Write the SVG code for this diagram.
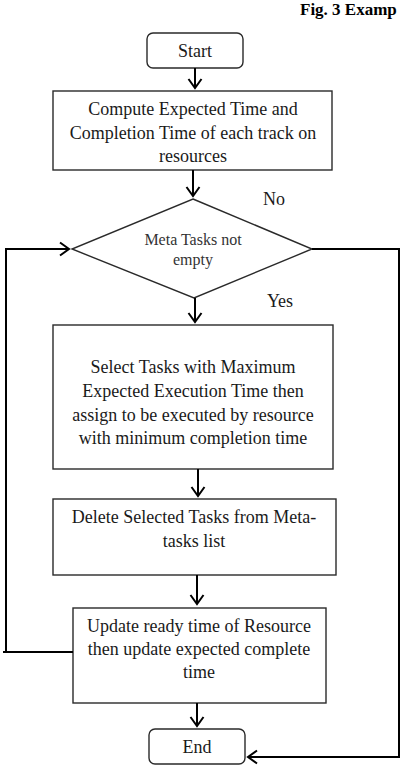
<svg xmlns="http://www.w3.org/2000/svg" width="403" height="765" viewBox="0 0 403 765">
  <style>
    .box { fill: #ffffff; stroke: #2a2a2a; stroke-width: 1.4; }
    .lbl { font-family: "Liberation Serif", "Times New Roman", serif; font-size: 18px; fill: #1a1a1a; text-anchor: middle; }
    .small { font-size: 16px; fill: #333333; }
    .edge { fill: none; stroke: #000000; stroke-width: 2; }
    .title { font-family: "Liberation Serif", "Times New Roman", serif; font-size: 17px; font-weight: bold; fill: #000000; }
  </style>
  <defs>
    <marker id="chev" markerUnits="userSpaceOnUse" markerWidth="14" markerHeight="16" viewBox="-11 -8 12 16" refX="0" refY="0" orient="auto">
      <path d="M-9,-6.5 L0,0 L-9,6.5" fill="none" stroke="#000000" stroke-width="2"/>
    </marker>
  </defs>

  <text class="title" x="300" y="15">Fig. 3 Examp</text>

  <g id="start">
    <rect class="box" x="147" y="33" width="96" height="35" rx="6"/>
    <text class="lbl" x="195" y="57">Start</text>
  </g>

  <g id="compute">
    <rect class="box" x="53" y="91" width="279" height="79"/>
    <text class="lbl" x="193" y="115">Compute Expected Time and</text>
    <text class="lbl" x="193" y="139">Completion Time of each track on</text>
    <text class="lbl" x="193" y="162">resources</text>
  </g>

  <g id="decision">
    <polygon class="box" points="193,199 312,249 194,298 72,249"/>
    <text class="lbl small" x="193" y="245">Meta Tasks not</text>
    <text class="lbl small" x="193" y="265">empty</text>
  </g>

  <g id="select">
    <rect class="box" x="53" y="325" width="280" height="144"/>
    <text class="lbl" x="193" y="373">Select Tasks with Maximum</text>
    <text class="lbl" x="193" y="397">Expected Execution Time then</text>
    <text class="lbl" x="193" y="421">assign to be executed by resource</text>
    <text class="lbl" x="193" y="444">with minimum completion time</text>
  </g>

  <g id="delete">
    <rect class="box" x="53" y="499" width="283" height="76"/>
    <text class="lbl" x="194" y="523">Delete Selected Tasks from Meta-</text>
    <text class="lbl" x="194" y="547">tasks list</text>
  </g>

  <g id="update">
    <rect class="box" x="73" y="608" width="253" height="95"/>
    <text class="lbl" x="199" y="632">Update ready time of Resource</text>
    <text class="lbl" x="199" y="655">then update expected complete</text>
    <text class="lbl" x="199" y="678">time</text>
  </g>

  <g id="end">
    <rect class="box" x="149" y="729" width="96" height="35" rx="6"/>
    <text class="lbl" x="197" y="753">End</text>
  </g>

  <g id="branch-labels">
    <text class="lbl" x="274" y="205">No</text>
    <text class="lbl" x="280" y="307">Yes</text>
  </g>

  <g id="connectors">
    <line class="edge" x1="195" y1="68" x2="195" y2="88" marker-end="url(#chev)"/>
    <line class="edge" x1="193" y1="170" x2="193" y2="196" marker-end="url(#chev)"/>
    <line class="edge" x1="195" y1="298" x2="195" y2="322" marker-end="url(#chev)"/>
    <line class="edge" x1="198" y1="469" x2="198" y2="496" marker-end="url(#chev)"/>
    <line class="edge" x1="197" y1="575" x2="197" y2="604" marker-end="url(#chev)"/>
    <line class="edge" x1="197" y1="703" x2="197" y2="726" marker-end="url(#chev)"/>
    <!-- loop back from update to the decision -->
    <line class="edge" x1="73" y1="652" x2="3" y2="652"/>
    <polyline class="edge" points="6,652 6,249 69,249" marker-end="url(#chev)"/>
    <!-- "No" exit to end -->
    <polyline class="edge" points="312,249 399,249 399,757 248,757" marker-end="url(#chev)"/>
  </g>
</svg>
